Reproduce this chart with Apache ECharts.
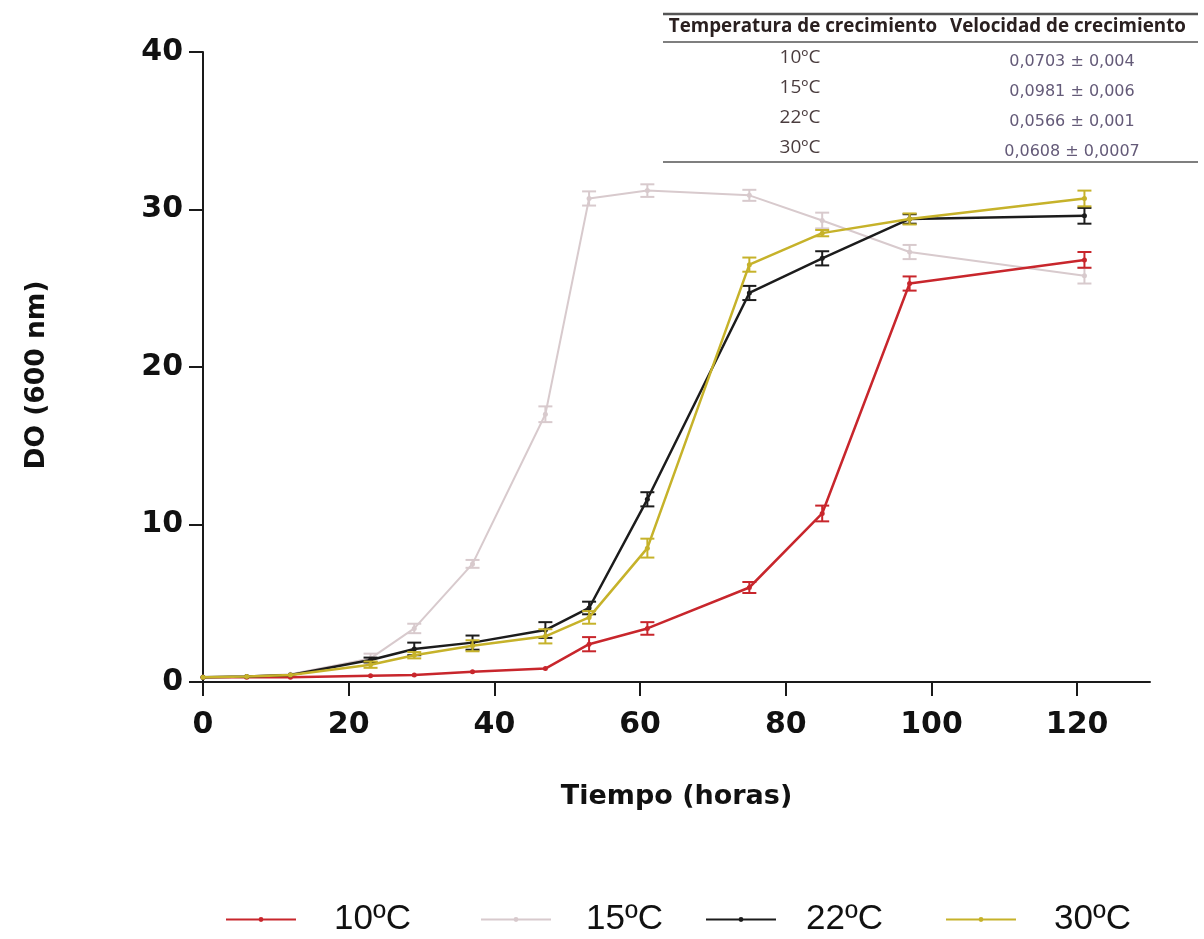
<!DOCTYPE html>
<html>
<head>
<meta charset="utf-8">
<script src="https://cdn.jsdelivr.net/npm/echarts@6/dist/echarts.min.js"></script>
<style>
  html, body { margin: 0; padding: 0; background: #ffffff; }
  #chart { width: 1204px; height: 939px; }
</style>
</head>
<body>
<div id="chart"></div>
<script>
// Sampling times (hours)
const hours = [0, 6, 12, 23, 29, 37, 47, 53, 61, 75, 85, 97, 121];
const seriesNames = ['10ºC', '15ºC', '22ºC', '30ºC'];

// Optical density (600 nm) means and standard deviations per temperature
const od10 = [0.3, 0.3, 0.3, 0.4, 0.45, 0.65, 0.85, 2.4, 3.4, 6.0, 10.7, 25.3, 26.8];
const sd10 = [0, 0, 0, 0, 0, 0, 0, 0.45, 0.4, 0.35, 0.5, 0.45, 0.5];
const od15 = [0.3, 0.35, 0.5, 1.5, 3.4, 7.5, 17.0, 30.7, 31.2, 30.9, 29.3, 27.3, 25.8];
const sd15 = [0, 0, 0, 0.3, 0.3, 0.25, 0.5, 0.45, 0.4, 0.35, 0.5, 0.45, 0.5];
const od22 = [0.3, 0.35, 0.45, 1.4, 2.1, 2.5, 3.3, 4.7, 11.6, 24.7, 26.9, 29.4, 29.6];
const sd22 = [0, 0, 0, 0.15, 0.4, 0.45, 0.5, 0.4, 0.45, 0.45, 0.45, 0.3, 0.5];
const od30 = [0.3, 0.35, 0.45, 1.1, 1.7, 2.3, 2.9, 4.1, 8.5, 26.5, 28.5, 29.4, 30.7];
const sd30 = [0, 0, 0, 0.2, 0.2, 0.35, 0.45, 0.4, 0.6, 0.45, 0.2, 0.35, 0.5];

// Axis ticks
const xTicks = [0, 20, 40, 60, 80, 100, 120];
const yTicks = [0, 10, 20, 30, 40];

// Growth-rate table
const tableHeader = ['Temperatura de crecimiento', 'Velocidad de crecimiento'];
const tableTemps = ['10ºC', '15ºC', '22ºC', '30ºC'];
const tableRates = ['0,0703 ± 0,004', '0,0981 ± 0,006', '0,0566 ± 0,001', '0,0608 ± 0,0007'];

const palette = ['#c8262c', '#d8cacd', '#1c1c1c', '#c6b22a'];
const lineWidths = [2.5, 2, 2.5, 2.5];
const zOrder = [3, 2, 4, 5];
const means = [od10, od15, od22, od30];
const sds = [sd10, sd15, sd22, sd30];

const chart = echarts.init(document.getElementById('chart'), null, { renderer: 'canvas' });

// Vertical bar with caps from mean - sd to mean + sd
function errorBarRenderer(color, width) {
  return function (params, api) {
    const x = api.value(0);
    const lo = api.coord([x, api.value(1)]);
    const hi = api.coord([x, api.value(2)]);
    const half = 7;
    const style = { stroke: color, lineWidth: width };
    return {
      type: 'group',
      children: [
        { type: 'line', shape: { x1: lo[0], y1: lo[1], x2: hi[0], y2: hi[1] }, style: style },
        { type: 'line', shape: { x1: lo[0] - half, y1: lo[1], x2: lo[0] + half, y2: lo[1] }, style: style },
        { type: 'line', shape: { x1: hi[0] - half, y1: hi[1], x2: hi[0] + half, y2: hi[1] }, style: style }
      ]
    };
  };
}

const series = [];
seriesNames.forEach(function (name, k) {
  series.push({
    name: name,
    type: 'line',
    data: hours.map(function (h, i) { return [h, means[k][i]]; }),
    symbol: 'circle',
    symbolSize: 5,
    z: zOrder[k],
    lineStyle: { color: palette[k], width: lineWidths[k] },
    itemStyle: { color: palette[k] },
    emphasis: { disabled: true }
  });
  const bars = [];
  hours.forEach(function (h, i) {
    if (sds[k][i] > 0) bars.push([h, means[k][i] - sds[k][i], means[k][i] + sds[k][i]]);
  });
  series.push({
    name: name + ' ±',
    type: 'custom',
    data: bars,
    z: zOrder[k],
    encode: { x: 0, y: [1, 2] },
    renderItem: errorBarRenderer(palette[k], 2)
  });
});

// Growth-rate table drawn as graphic elements
const tableLeft = 663, tableRight = 1198;
const col1 = 803, col2 = 1068;
const tableFont = '"Open Sans", Lato, sans-serif';
const graphics = [
  { type: 'line', shape: { x1: tableLeft, y1: 14, x2: tableRight, y2: 14 }, style: { stroke: '#555', lineWidth: 2.5 } },
  { type: 'line', shape: { x1: tableLeft, y1: 42, x2: tableRight, y2: 42 }, style: { stroke: '#555', lineWidth: 1.5 } },
  { type: 'line', shape: { x1: tableLeft, y1: 162, x2: tableRight, y2: 162 }, style: { stroke: '#555', lineWidth: 1.5 } },
  { type: 'text', x: col1, y: 27, style: { text: tableHeader[0], fontFamily: tableFont, fontWeight: 'bold', fontSize: 18.8, fill: '#2a2020', align: 'center', verticalAlign: 'middle' } },
  { type: 'text', x: col2, y: 27, style: { text: tableHeader[1], fontFamily: tableFont, fontWeight: 'bold', fontSize: 18.8, fill: '#2a2020', align: 'center', verticalAlign: 'middle' } }
];
tableTemps.forEach(function (t, i) {
  graphics.push({ type: 'text', x: col1 - 3, y: 58 + i * 30, style: { text: t, fontFamily: tableFont, fontSize: 19, fill: '#4a3c3e', align: 'center', verticalAlign: 'middle' } });
  graphics.push({ type: 'text', x: col2 + 4, y: 62 + i * 30, style: { text: tableRates[i], fontFamily: '"DejaVu Sans", sans-serif', fontSize: 16, fill: '#645a78', align: 'center', verticalAlign: 'middle' } });
});

const legendLeft = [225, 480, 705, 945];
const legendTextGap = [33, 30, 25, 33];

const option = {
  animation: false,
  backgroundColor: '#ffffff',
  grid: { left: 203, right: 54, top: 52, bottom: 257, containLabel: false },
  xAxis: {
    type: 'value',
    min: 0,
    max: 130,
    interval: 20,
    name: 'Tiempo (horas)',
    nameLocation: 'middle',
    nameGap: 101,
    nameTextStyle: { fontFamily: '"DejaVu Sans", sans-serif', fontWeight: 'bold', fontSize: 27, color: '#111' },
    axisLine: { onZero: false, lineStyle: { color: '#1a1a1a', width: 2 } },
    axisTick: { show: true, length: 14, customValues: xTicks, lineStyle: { color: '#1a1a1a', width: 2 } },
    axisLabel: { customValues: xTicks, margin: 28, fontFamily: '"DejaVu Sans", sans-serif', fontWeight: 'bold', fontSize: 30, color: '#111' },
    splitLine: { show: false }
  },
  yAxis: {
    type: 'value',
    min: 0,
    max: 40,
    interval: 10,
    name: 'DO (600 nm)',
    nameLocation: 'middle',
    nameGap: 152,
    nameRotate: 90,
    nameTextStyle: { fontFamily: '"DejaVu Sans", sans-serif', fontWeight: 'bold', fontSize: 26.5, color: '#111', padding: [0, 16, 0, 0] },
    axisLine: { show: true, onZero: false, lineStyle: { color: '#1a1a1a', width: 2 } },
    axisTick: { show: true, length: 14, customValues: yTicks, lineStyle: { color: '#1a1a1a', width: 2 } },
    axisLabel: { customValues: yTicks, margin: 20, fontFamily: '"DejaVu Sans", sans-serif', fontWeight: 'bold', fontSize: 30, color: '#111' },
    splitLine: { show: false }
  },
  legend: seriesNames.map(function (n, i) {
    return {
      data: [n],
      left: legendLeft[i],
      top: 902,
      padding: 0,
      itemWidth: 70,
      itemHeight: 6,
      selectedMode: false,
      textStyle: { fontFamily: '"Liberation Sans Narrow", "Liberation Sans", Arial, sans-serif', fontSize: 35, color: '#111', padding: [0, 0, 0, legendTextGap[i]] }
    };
  }),
  graphic: graphics,
  series: series
};

chart.setOption(option);
</script>
</body>
</html>
